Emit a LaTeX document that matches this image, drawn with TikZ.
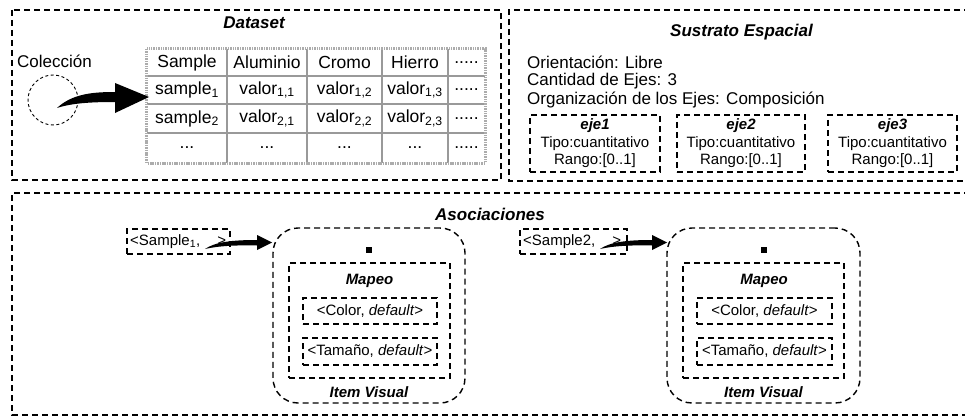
\documentclass[tikz,border=0pt]{standalone}
\usepackage{fontspec}
\setmainfont{Liberation Sans}
\usetikzlibrary{calc}
\begin{document}
\begin{tikzpicture}[x=1pt,y=-1pt,
  dsh/.style={draw, line width=1.4pt, dash pattern=on 6pt off 4pt},
  bigt/.style={font=\fontsize{17}{19}\selectfont, inner sep=0pt},
  tabt/.style={font=\fontsize{17.5}{20}\selectfont, inner sep=0pt},
  smallt/.style={font=\fontsize{15}{17.5}\selectfont, inner sep=0pt},
  ttl/.style={font=\fontsize{17}{19}\selectfont\bfseries\itshape, inner sep=0pt},
  sttl/.style={font=\fontsize{15}{17.5}\selectfont\bfseries\itshape, inner sep=0pt},
  boxn/.style={dsh, inner sep=0pt},
  ejebox/.style={dsh, minimum height=57pt, inner sep=0pt, align=center,
     font=\fontsize{15}{17.5}\selectfont},
  grid/.style={draw=gray!80, line width=1.1pt},
  tborder/.style={draw=gray!65, line width=3pt, dash pattern=on 1.5pt off 0.9pt},
  fatarrow/.style={fill=black}
]
\useasboundingbox (0,0) rectangle (965,417);
\clip (0,0) rectangle (965,417);

% ---------- frames
\draw[dsh] (12,10) rectangle (501,180);
\draw[dsh] (970,10) -- (509,10) -- (509,181) -- (970,181);
\draw[dsh] (970,193) -- (12,193) -- (12,415) -- (970,415);

% ---------- titles
\node[ttl] (tds) at (254,23) {Dataset};
\node[ttl] (tse) at (741.5,32) {Sustrato Espacial};
\node[ttl] (tas) at (490,214) {Asociaciones};

% ---------- Dataset
\node[bigt, anchor=west] (col) at (17,61) {Colección};
\node[draw, line width=0.9pt, dash pattern=on 3pt off 2.5pt, circle,
      minimum size=50pt, inner sep=0pt] (circ) at (53,100) {};

\node[minimum width=338pt, minimum height=114pt, inner sep=0pt] (tab) at (316,106) {};
\foreach \yy in {76,104,133} \draw[grid] (147,\yy) -- (485,\yy);
\foreach \xx in {227,307,382,448} \draw[grid] (\xx,49) -- (\xx,163);
\draw[tborder] (tab.north west) rectangle (tab.south east);

\node[tabt] (c11) at (187,62.5) {Sample};
\node[tabt] (c12) at (267,62.5) {Aluminio};
\node[tabt] (c13) at (344.5,62.5) {Cromo};
\node[tabt] (c14) at (415,62.5) {Hierro};
\node[tabt] (c15) at (466.5,62.5) {.....};
\node[tabt] (c21) at (187,90) {sample\textsubscript{1}};
\node[tabt] (c22) at (267,90) {valor\textsubscript{1,1}};
\node[tabt] (c23) at (344.5,90) {valor\textsubscript{1,2}};
\node[tabt] (c24) at (415,90) {valor\textsubscript{1,3}};
\node[tabt] (c25) at (466.5,90) {.....};
\node[tabt] (c31) at (187,118.5) {sample\textsubscript{2}};
\node[tabt] (c32) at (267,118.5) {valor\textsubscript{2,1}};
\node[tabt] (c33) at (344.5,118.5) {valor\textsubscript{2,2}};
\node[tabt] (c34) at (415,118.5) {valor\textsubscript{2,3}};
\node[tabt] (c35) at (466.5,118.5) {.....};
\node[tabt] (c41) at (187,148) {...};
\node[tabt] (c42) at (267,148) {...};
\node[tabt] (c43) at (344.5,148) {...};
\node[tabt] (c44) at (415,148) {...};
\node[tabt] (c45) at (466.5,148) {.....};

% big curved arrow from collection to table
\fill[fatarrow] (57,108) .. controls (72,94) and (92,92) .. (115,92)
   -- (115,83) -- (149,97) -- (115,113) -- (115,102)
   .. controls (92,102) and (72,103) .. (57,108) -- cycle;

% ---------- Sustrato Espacial
\node[bigt, anchor=west] (or) at (527,62) {Orientación: Libre};
\node[bigt, anchor=west] (ca) at (527,81) {Cantidad de Ejes: 3};
\node[bigt, anchor=west] (og) at (527,100) {Organización de los Ejes: Composición};

\node[ejebox, minimum width=130pt] (e1) at (595,143.5)
  {{\bfseries\itshape eje1}\\Tipo:cuantitativo\\Rango:[0..1]};
\node[ejebox, minimum width=128pt] (e2) at (741,143.5)
  {{\bfseries\itshape eje2}\\Tipo:cuantitativo\\Rango:[0..1]};
\node[ejebox, minimum width=129pt] (e3) at (892.5,143.5)
  {{\bfseries\itshape eje3}\\Tipo:cuantitativo\\Rango:[0..1]};

% ---------- Asociaciones : group 1
\node[boxn, minimum width=103pt, minimum height=25pt] (s1) at (178.5,241.5) {};
\node[smallt, anchor=west] (s1t) at (130,241.5) {<Sample\textsubscript{1},\hspace{17pt}>};

\node[boxn, rounded corners=25pt, minimum width=192pt, minimum height=175pt] (iv1) at (369,315.5) {};
\node[fill=black, minimum size=6pt, inner sep=0pt] (sq1) at (369,250) {};
\node[boxn, minimum width=161pt, minimum height=115pt] (mp1) at (369.5,320.5) {};
\node[sttl] (mp1t) at (369.5,281) {Mapeo};
\node[boxn, minimum width=134pt, minimum height=26pt] (co1) at (370,311) {};
\node[smallt] (co1t) at (370,311) {<Color, \textit{default}>};
\node[boxn, minimum width=134pt, minimum height=27pt] (ta1) at (370,351.5) {};
\node[smallt] (ta1t) at (370,351.5) {<Tamaño, \textit{default}>};
\node[sttl] (iv1t) at (369,392) {Item Visual};

\fill[fatarrow] (205,249) .. controls (215,242) and (232,240) .. (257,240)
   -- (257,235) -- (272,242.5) -- (257,250) -- (257,245.5)
   .. controls (235,245) and (218,246) .. (205,249) -- cycle;

% ---------- Asociaciones : group 2
\node[boxn, minimum width=107pt, minimum height=25pt] (s2) at (573.5,241.5) {};
\node[smallt, anchor=west] (s2t) at (523,241.5) {<Sample2,\hspace{17pt}>};

\node[boxn, rounded corners=25pt, minimum width=193pt, minimum height=175pt] (iv2) at (763.5,315.5) {};
\node[fill=black, minimum size=6pt, inner sep=0pt] (sq2) at (764,250) {};
\node[boxn, minimum width=161pt, minimum height=115pt] (mp2) at (763.5,320.5) {};
\node[sttl] (mp2t) at (764,281) {Mapeo};
\node[boxn, minimum width=135pt, minimum height=26pt] (co2) at (764.5,311) {};
\node[smallt] (co2t) at (764.5,311) {<Color, \textit{default}>};
\node[boxn, minimum width=135pt, minimum height=27pt] (ta2) at (764.5,351.5) {};
\node[smallt] (ta2t) at (764.5,351.5) {<Tamaño, \textit{default}>};
\node[sttl] (iv2t) at (763.5,392) {Item Visual};

\begin{scope}[shift={(395,0)}]
\fill[fatarrow] (205,249) .. controls (215,242) and (232,240) .. (257,240)
   -- (257,235) -- (272,242.5) -- (257,250) -- (257,245.5)
   .. controls (235,245) and (218,246) .. (205,249) -- cycle;
\end{scope}
\end{tikzpicture}
\end{document}
